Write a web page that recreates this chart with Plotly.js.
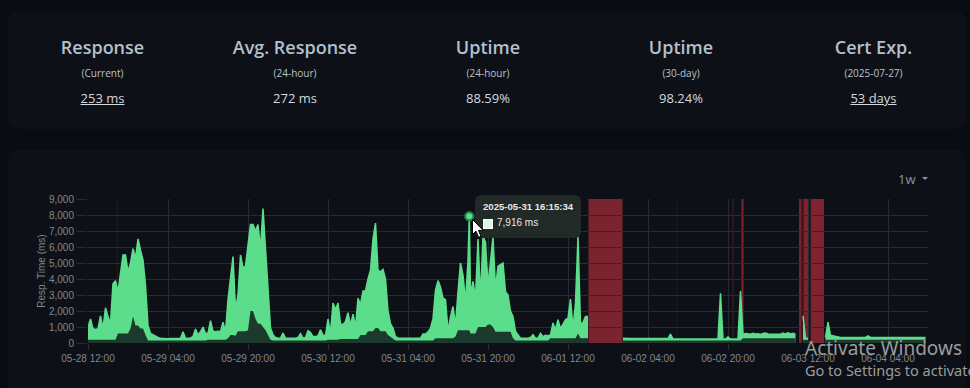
<!DOCTYPE html>
<html>
<head>
<meta charset="utf-8">
<script src="https://cdn.plot.ly/plotly-3.0.1.min.js"></script>
<style>
html,body{margin:0;padding:0;width:970px;height:388px;overflow:hidden;background:#090c10;font-family:'Open Sans','Noto Sans',sans-serif;}
.card{position:absolute;background:#0d1117;border-radius:10px;}
.stat{position:absolute;top:0;width:192px;height:130px;text-align:center;}
.stat .t{position:absolute;left:0;width:100%;top:35px;font-size:18px;font-weight:600;color:#b4c0cc;line-height:24px;}
.stat .s{position:absolute;left:0;width:100%;top:66px;font-size:10px;color:#b9c2cc;line-height:14px;}
.stat .v{position:absolute;left:0;width:100%;top:89px;font-size:13px;color:#d3d9df;line-height:18px;}
.stat .v a{color:#d3d9df;text-decoration:underline;}
#plot{position:absolute;left:0;top:0;width:970px;height:388px;z-index:2;}
#range{position:absolute;left:898px;top:170px;font-size:13px;color:#8d939a;z-index:3;}
#caret{position:absolute;left:922px;top:177px;width:0;height:0;border-left:3px solid transparent;border-right:3px solid transparent;border-top:3px solid #8d939a;z-index:3;}
#tip{position:absolute;left:475px;top:195px;width:106px;height:43px;background:#222a27;border-radius:6px;z-index:5;}
#tipTitle{position:absolute;left:8px;top:6px;font:bold 9.6px 'Liberation Sans',Arial,sans-serif;color:#e8e8e8;white-space:nowrap;line-height:12px;}
#tipBox{position:absolute;left:8px;top:24px;width:8px;height:8px;background:#d9f6e3;border:1px solid #ffffff;}
#tipBody{position:absolute;left:22px;top:22px;font:10px 'Liberation Sans',Arial,sans-serif;color:#e8e8e8;white-space:nowrap;line-height:12px;}
#cursor{position:absolute;left:472px;top:219px;z-index:6;}
.wm{position:absolute;left:805px;color:#9c9c9c;white-space:nowrap;z-index:7;font-family:'Noto Sans','Open Sans',sans-serif;}
</style>
</head>
<body>
<div class="card" style="left:8px;top:11px;width:958px;height:118px;"></div>
<div class="card" style="left:8px;top:150px;width:958px;height:260px;"></div>
<div id="stats"></div>
<div id="plot"></div>
<div id="range">1w</div><div id="caret"></div>
<div id="tip"><div id="tipTitle"></div><div id="tipBox"></div><div id="tipBody"></div></div>
<svg id="cursor" width="13" height="20" viewBox="0 0 13 20"><path d="M0.5,0.5 L0.5,15.5 L4,12.2 L6.6,18.3 L9,17.3 L6.5,11.4 L11.2,11.4 Z" fill="#ffffff" stroke="#000000" stroke-width="1"/></svg>
<div class="wm" style="top:335px;font-size:19px;">Activate Windows</div>
<div class="wm" style="top:360px;font-size:14.5px;">Go to Settings to activate Windows.</div>
<script>
// ---- Stat cards ----
const statTitles = ['Response', 'Avg. Response', 'Uptime', 'Uptime', 'Cert Exp.'];
const statSubs = ['(Current)', '(24-hour)', '(24-hour)', '(30-day)', '(2025-07-27)'];
const statValues = ['253 ms', '272 ms', '88.59%', '98.24%', '53 days'];
const statLinks = [true, false, false, false, true];
const statCenters = [102.5, 295, 488, 681, 873.5];

// ---- Chart data (30-minute samples starting 2025-05-28 12:00) ----
const seriesStart = '2025-05-28T12:00:00Z';
const stepMinutes = 30;
const maxDay1 = [1000,1500,900,850,900,1700,900,2200,1650,1200,3700,3900,3200,4450,5500,5500,4450,5000,5900,5300,6500,5800,5200,3600,1100,600,500,450,350,300,280,280,270,280,280,270,280,300,700,300,300,320,400,870,500,700,1000,600];
const maxDay2 = [620,1400,730,700,730,700,1300,700,2700,4200,5400,2100,3000,5500,4700,4800,6000,7400,7400,7000,7400,5900,8400,5900,3500,930,520,350,300,300,620,300,300,300,300,300,350,580,300,350,770,650,400,400,450,830,500,450];
const maxDay3 = [1500,600,2500,2100,2500,1200,1150,1350,1900,1100,1800,1000,2800,2400,3250,3250,4000,4550,6500,7500,4550,4450,4600,4000,2000,1200,930,400,320,300,300,300,300,300,300,300,300,300,560,560,700,930,1500,3300,3900,3500,2800,2700];
const maxDay4 = [730,1650,2280,1100,3200,5000,4250,2600,5100,3000,3850,2800,6500,2800,6650,6300,3600,5100,6650,3400,4800,4900,5000,3200,3000,2000,1650,730,520,300,300,300,300,350,520,300,300,600,400,480,450,500,1250,830,1450,900,1150,1450];
const maxDay5 = [1550,2750,930,2500,6650,1150,1300,1650,1650,null,null,null,null,null,null,null,null,null,null,null,null,null,300,280,280,280,280,280,280,280,280,280,280,280,280,280,280,280,280,280,280,560,250,250,250,250,250,250];
const maxDay6 = [250,250,250,250,250,250,250,250,250,250,250,250,250,3100,250,250,380,250,250,250,250,3250,550,600,560,550,600,560,580,540,600,620,560,550,540,560,540,550,620,560,640,560,600,550,null,null,1700,300];
const maxDay7 = [300,null,null,null,null,null,null,350,1300,480,450,420,350,350,350,350,350,350,350,350,350,350,350,350,450,350,350,350,350,350,350,350,350,350,350,350,350,350,350,350,350,350,350,350,350,350,350,350];

const minDay1 = [200,200,200,200,200,200,200,200,200,200,200,200,600,600,600,600,600,900,1650,1100,1100,900,900,500,150,150,150,150,150,150,150,150,150,150,150,150,150,150,150,150,150,150,150,150,150,150,150,150];
const minDay2 = [200,200,200,200,200,200,200,200,300,500,500,450,730,730,730,730,800,2000,2000,1500,1200,1200,1000,800,500,200,150,150,150,150,150,150,150,150,150,150,150,150,150,150,150,150,150,150,150,150,150,150];
const minDay3 = [200,200,200,200,200,250,250,250,250,250,250,250,250,500,500,500,730,730,730,930,930,730,730,730,500,400,250,150,150,150,150,150,150,150,150,150,150,150,150,150,150,150,150,300,300,300,300,300];
const minDay4 = [300,300,300,400,800,800,800,800,800,600,600,600,1000,1000,1000,1000,1150,1150,1000,700,700,700,700,700,700,700,300,150,150,150,150,150,150,150,150,150,150,150,150,150,150,300,300,300,300,300,300,300];
const minDay5 = [300,300,300,300,600,300,300,300,300,null,null,null,null,null,null,null,null,null,null,null,null,null,150,150,150,150,150,150,150,150,150,150,150,150,150,150,150,150,150,150,150,150,150,150,150,150,150,150];
const minDay6 = [150,150,150,150,150,150,150,150,150,150,150,150,150,150,150,150,150,150,150,150,150,150,300,300,300,300,300,300,300,300,300,300,300,300,300,300,300,300,300,300,300,300,300,300,null,null,200,200];
const minDay7 = [200,null,null,null,null,null,null,200,200,200,200,200,200,200,200,200,200,200,200,200,200,200,200,200,200,200,200,200,200,200,200,200,200,200,200,200,200,200,200,200,200,200,200,200,200,200,200,200];

// hovered sample shown in the tooltip
const hoverTime = '2025-05-31 16:15:34';
const hoverValue = 7916;
const hoverMin = 800;

// downtime periods
const downStart = ['2025-05-28 17:45','2025-06-01 16:06','2025-06-02 09:39','2025-06-02 20:54','2025-06-02 22:42','2025-06-03 10:12','2025-06-03 10:12','2025-06-03 11:06','2025-06-03 12:36'];
const downEnd   = ['2025-05-28 17:57','2025-06-01 22:54','2025-06-02 09:51','2025-06-02 21:06','2025-06-02 23:06','2025-06-03 12:36','2025-06-03 10:42','2025-06-03 12:00','2025-06-03 15:12'];
const downAlpha = [0.14, 0.52, 0.14, 0.28, 0.55, 0.15, 0.42, 0.45, 0.55];

const xRange = ['2025-05-28 12:00', '2025-06-04 12:00'];
const yRange = [0, 9000];

// ---- Build stats ----
const stats = document.getElementById('stats');
statTitles.forEach((t, i) => {
  const d = document.createElement('div');
  d.className = 'stat';
  d.style.left = (statCenters[i] - 96) + 'px';
  const val = statLinks[i] ? '<a>' + statValues[i] + '</a>' : statValues[i];
  d.innerHTML = '<div class="t">' + t + '</div><div class="s">' + statSubs[i] + '</div><div class="v">' + val + '</div>';
  stats.appendChild(d);
});

// ---- Build series ----
const maxVals = [].concat(maxDay1, maxDay2, maxDay3, maxDay4, maxDay5, maxDay6, maxDay7);
const minVals = [].concat(minDay1, minDay2, minDay3, minDay4, minDay5, minDay6, minDay7);
const base = Date.parse(seriesStart);
const pts = maxVals.map((v, i) => ({
  t: new Date(base + i * stepMinutes * 60000).toISOString().slice(0, 19).replace('T', ' '),
  hi: v, lo: minVals[i]
}));
pts.push({t: hoverTime, hi: hoverValue, lo: hoverMin});
pts.sort((a, b) => (a.t < b.t ? -1 : a.t > b.t ? 1 : 0));

// split into continuous segments at missing beats (so fills do not bridge the gaps)
const segments = [];
let cur = null;
pts.forEach(p => {
  if (p.hi === null) { cur = null; return; }
  if (!cur) { cur = []; segments.push(cur); }
  cur.push(p);
});

const gridCol = '#272c32';
const tickFont = {family: 'Liberation Sans, Arial, sans-serif', size: 10, color: '#81878d'};

const traces = [];
segments.forEach(seg => {
  traces.push({x: seg.map(p => p.t), y: seg.map(p => p.hi), type: 'scatter', mode: 'lines',
    line: {color: '#5cdd8b', width: 1.5}, fill: 'tozeroy', fillcolor: '#5cdd8b', hoverinfo: 'skip'});
});
segments.forEach(seg => {
  traces.push({x: seg.map(p => p.t), y: seg.map(p => p.lo), type: 'scatter', mode: 'lines',
    line: {color: 'rgba(0,0,0,0)', width: 0}, fill: 'tozeroy', fillcolor: '#1c3a2b', hoverinfo: 'skip'});
});
traces.push({x: [hoverTime], y: [hoverValue], type: 'scatter', mode: 'markers',
  marker: {size: 8, color: '#5cdd8b', line: {color: '#1f8a4c', width: 2}}, hoverinfo: 'skip'});

const shapes = downStart.map((s, i) => ({
  type: 'rect', xref: 'x', yref: 'paper', x0: s, x1: downEnd[i], y0: 0, y1: 1,
  fillcolor: 'rgba(220,53,69,' + downAlpha[i] + ')', line: {width: 0}, layer: 'between'
}));

const layout = {
  width: 970, height: 388,
  margin: {l: 88, r: 42, t: 199, b: 45, pad: 0},
  paper_bgcolor: 'rgba(0,0,0,0)', plot_bgcolor: 'rgba(0,0,0,0)',
  showlegend: false, hovermode: false,
  xaxis: {type: 'date', range: xRange, tick0: xRange[0], dtick: 16 * 3600000,
    tickformat: '%m-%d %H:%M', showgrid: true, gridcolor: gridCol, gridwidth: 1,
    ticks: 'outside', ticklen: 6, tickcolor: gridCol, tickfont: tickFont,
    zeroline: false, showline: false, fixedrange: true},
  yaxis: {range: yRange, dtick: 1000, tickformat: ',d', showgrid: true, gridcolor: gridCol,
    ticks: 'outside', ticklen: 11, tickcolor: gridCol, tickfont: tickFont,
    zeroline: false, showline: false, fixedrange: true,
    title: {text: 'Resp. Time (ms)', font: tickFont, standoff: 1}},
  shapes: shapes
};

Plotly.newPlot('plot', traces, layout, {staticPlot: true, displayModeBar: false});

document.getElementById('tipTitle').textContent = hoverTime;
document.getElementById('tipBody').textContent = hoverValue.toLocaleString('en-US') + ' ms';
</script>
</body>
</html>
